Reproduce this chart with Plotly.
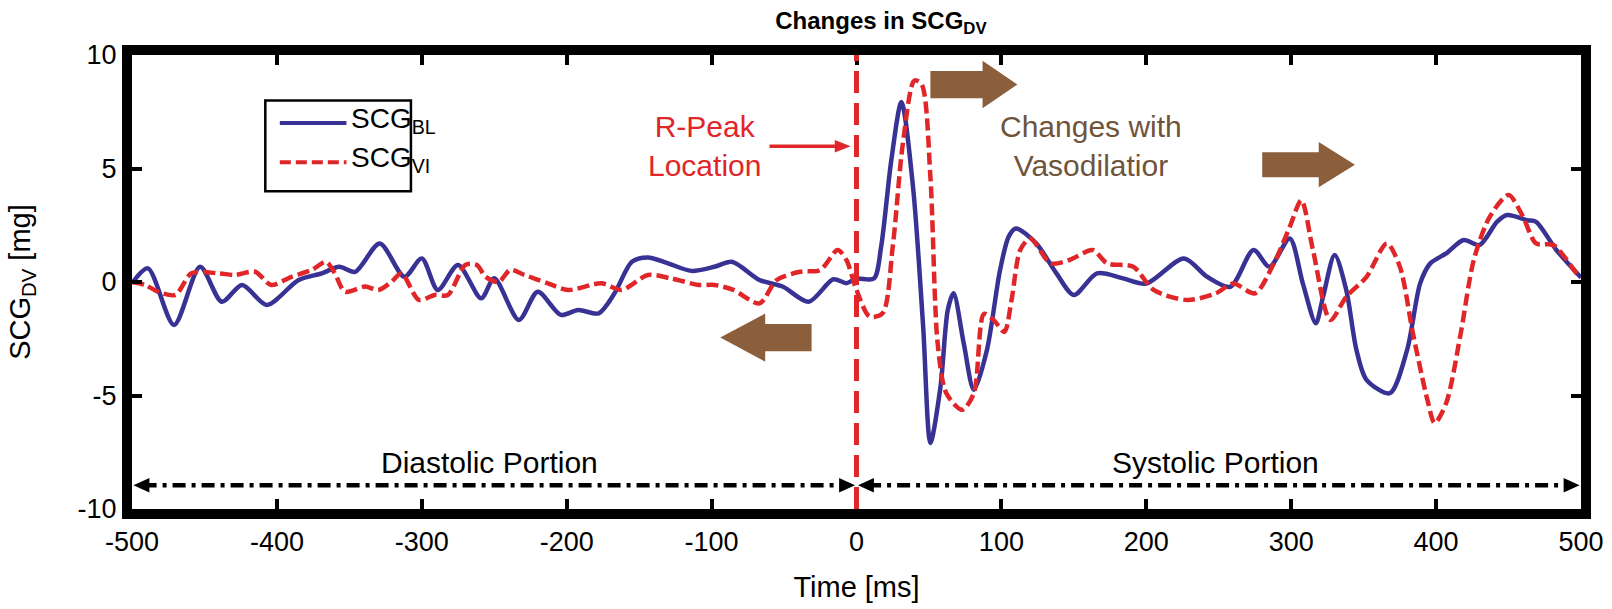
import plotly.graph_objects as go

# ---------------- data ----------------
t_bl = [-500, -489, -471, -453, -438, -424, -407, -385, -369, -357, -346, -329, -312, -300,
        -289, -275, -259, -250, -233, -220, -204, -192, -178, -167, -155, -144, -130, -114,
        -98, -86, -67, -51, -33, -16, -7, 0, 12, 17, 24, 31, 39, 46, 51, 58, 63, 67, 74, 81,
        90, 99, 105, 110, 124, 138, 150, 166, 184, 200, 226, 242, 258, 274, 285, 299, 308,
        317, 322, 330, 338, 345, 352, 368, 380, 389, 396, 407, 419, 430, 442, 449, 463, 469,
        483, 500]
v_bl = [-0.06, 0.6, -1.89, 0.67, -0.87, -0.13, -1.01, 0.09, 0.38, 0.67, 0.45, 1.70, 0.23, 1.04,
        -0.35, 0.75, -0.72, 0.16, -1.67, -0.43, -1.45, -1.23, -1.38, -0.5, 0.89, 1.08, 0.82, 0.49,
        0.67, 0.89, 0.09, -0.2, -0.87, 0.12, -0.05, 0.15, 0.15, 1.55, 5.36, 7.93, 4.19, -1.96,
        -7.09, -4.6, -1.23, -0.5, -2.7, -4.75, -3.0, 0.5, 2.0, 2.36, 1.7, 0.38, -0.57, 0.38,
        0.16, -0.07, 1.04, 0.23, -0.21, 1.41, 0.67, 1.92, -0.06, -1.82, -0.65, 1.19, -0.35,
        -2.99, -4.31, -4.9, -2.99, -0.06, 0.82, 1.26, 1.85, 1.63, 2.65, 2.95, 2.72, 2.65, 1.41,
        0.2]

t_vi = [-500, -491, -482, -470, -459, -440, -429, -415, -404, -390, -376, -366, -360, -353,
        -339, -330, -321, -314, -302, -291, -282, -270, -262, -256, -247, -239, -229, -213,
        -199, -176, -162, -144, -128, -109, -98, -85, -67, -55, -39, -25, -13, -7, 0, 9, 18,
        25, 32, 40, 45, 51, 56, 62, 73, 81, 88, 95, 102, 107, 113, 120, 134, 147, 163, 173,
        191, 205, 228, 248, 260, 275, 288, 299, 307, 315, 327, 338, 352, 366, 375, 384, 394,
        399, 407, 417, 426, 437, 450, 460, 469, 481, 497, 500]
v_vi = [0.0, -0.13, -0.43, -0.57, 0.38, 0.38, 0.31, 0.45, -0.13, 0.23, 0.53, 0.89, 0.38, -0.43,
        -0.2, -0.35, 0.0, 0.38, -0.79, -0.57, -0.57, 0.75, 0.75, 0.23, 0.0, 0.53, 0.31, -0.06,
        -0.35, -0.06, -0.35, 0.31, 0.16, -0.13, -0.13, -0.35, -0.94, 0.09, 0.45, 0.53, 1.41,
        0.97, -0.35, -1.52, -1.38, 1.55, 6.1, 8.88, 8.7, 4.63, -2.7, -4.9, -5.63, -4.9, -1.4,
        -1.7, -2.2, -0.8, 1.41, 1.92, 0.82, 0.97, 1.41, 0.82, 0.67, -0.35, -0.79, -0.5, -0.07,
        -0.5, 0.82, 2.43, 3.6, 1.41, -1.67, -0.65, 0.23, 1.7, 0.67, -2.26, -5.19, -6.21, -5.33,
        -2.26, 0.97, 2.87, 3.83, 2.87, 1.7, 1.63, 0.38, 0.2]

x_ticks = [-500, -400, -300, -200, -100, 0, 100, 200, 300, 400, 500]
y_ticks = [-10, -5, 0, 5, 10]
x_ticklabels = [str(v) for v in x_ticks]
y_ticklabels = [str(v) for v in y_ticks]

series_names = ["SCG<sub>BL</sub>", "SCG<sub>VI</sub>"]

FONT = "Arial, Liberation Sans, sans-serif"
BLUE = "rgb(55,50,148)"
RED = "rgb(224,38,40)"
BROWN_TXT = "rgb(112,84,58)"
BROWN = "rgb(139,94,60)"
RED_DASH = "12px,5px"

fig = go.Figure()
fig.add_trace(go.Scatter(x=t_bl, y=v_bl, mode="lines", name=series_names[0], showlegend=False,
                         line=dict(color=BLUE, width=4.5, shape="spline", smoothing=0.8)))
fig.add_trace(go.Scatter(x=t_vi, y=v_vi, mode="lines", name=series_names[1], showlegend=False,
                         line=dict(color=RED, width=4.5, dash=RED_DASH, shape="spline",
                                   smoothing=0.8)))


def block_arrow(x_tail, x_tip, yc, shaft_h, head_h, head_len):
    xs = x_tip - head_len if x_tip > x_tail else x_tip + head_len
    return (f"M {x_tail},{yc - shaft_h} L {xs},{yc - shaft_h} L {xs},{yc - head_h} "
            f"L {x_tip},{yc} L {xs},{yc + head_h} L {xs},{yc + shaft_h} L {x_tail},{yc + shaft_h} Z")


def head(x_tip, yc, direction, length, half):
    xb = x_tip - direction * length
    return f"M {x_tip},{yc} L {xb},{yc + half} L {xb},{yc - half} Z"


Y_SPAN = -8.95
shapes = [
    # R-peak vertical line
    dict(type="line", x0=0, x1=0, y0=-10, y1=10, xref="x", yref="y",
         line=dict(color=RED, width=5, dash="22px,10px"), layer="above"),
    # diastolic / systolic dash-dot lines
    dict(type="line", x0=-492, x1=-8, y0=Y_SPAN, y1=Y_SPAN, xref="x", yref="y",
         line=dict(color="black", width=4.5, dash="13px,6px,4px,6px")),
    dict(type="line", x0=8, x1=492, y0=Y_SPAN, y1=Y_SPAN, xref="x", yref="y",
         line=dict(color="black", width=4.5, dash="13px,6px,4px,6px")),
    # brown block arrows
    dict(type="path", path=block_arrow(51, 111, 8.7, 0.6, 1.05, 24), xref="x", yref="y",
         fillcolor=BROWN, line=dict(width=0)),
    dict(type="path", path=block_arrow(280, 344, 5.17, 0.55, 1.0, 25), xref="x", yref="y",
         fillcolor=BROWN, line=dict(width=0)),
    dict(type="path", path=block_arrow(-31, -94, -2.45, 0.6, 1.06, 31), xref="x", yref="y",
         fillcolor=BROWN, line=dict(width=0)),
    # red R-peak pointer
    dict(type="line", x0=-60, x1=-12, y0=5.98, y1=5.98, xref="x", yref="y",
         line=dict(color=RED, width=3.5)),
    dict(type="path", path=head(-4, 5.98, 1, 11, 0.28), xref="x", yref="y",
         fillcolor=RED, line=dict(width=0)),
    # black arrow heads of the portions
    dict(type="path", path=head(-499, Y_SPAN, -1, 11, 0.32), xref="x", yref="y",
         fillcolor="black", line=dict(width=0)),
    dict(type="path", path=head(-1, Y_SPAN, 1, 11, 0.32), xref="x", yref="y",
         fillcolor="black", line=dict(width=0)),
    dict(type="path", path=head(1, Y_SPAN, -1, 11, 0.32), xref="x", yref="y",
         fillcolor="black", line=dict(width=0)),
    dict(type="path", path=head(499, Y_SPAN, 1, 11, 0.32), xref="x", yref="y",
         fillcolor="black", line=dict(width=0)),
    # legend box and samples
    dict(type="rect", x0=-408, x1=-307.5, y0=4.0, y1=8.0, xref="x", yref="y",
         line=dict(color="black", width=2.5), fillcolor="white", layer="above"),
    dict(type="line", x0=-398, x1=-352, y0=7.0, y1=7.0, xref="x", yref="y",
         line=dict(color=BLUE, width=4), layer="above"),
    dict(type="line", x0=-398, x1=-352, y0=5.28, y1=5.28, xref="x", yref="y",
         line=dict(color=RED, width=4, dash="11px,5px"), layer="above"),
]

annotations = [
    dict(x=-105, y=5.97, text="R-Peak<br>Location", showarrow=False,
         font=dict(family=FONT, size=30, color=RED)),
    dict(x=162, y=5.97, text="Changes with<br>Vasodilatior", showarrow=False,
         font=dict(family=FONT, size=30, color=BROWN_TXT)),
    dict(x=-253, y=-7.95, text="Diastolic Portion", showarrow=False,
         font=dict(family=FONT, size=30, color="black")),
    dict(x=248, y=-7.95, text="Systolic Portion", showarrow=False,
         font=dict(family=FONT, size=30, color="black")),
    dict(x=-350, y=7.12, text=series_names[0], showarrow=False, xanchor="left",
         font=dict(family=FONT, size=28, color="black")),
    dict(x=-350, y=5.4, text=series_names[1], showarrow=False, xanchor="left",
         font=dict(family=FONT, size=28, color="black")),
]

axis_common = dict(showgrid=False, zeroline=False, showline=True, linecolor="black",
                   linewidth=10, mirror="ticks", ticks="inside", ticklen=10, tickwidth=4,
                   tickcolor="black", automargin=False,
                   tickfont=dict(family=FONT, size=27, color="black"))

fig.update_layout(
    width=1612, height=609,
    paper_bgcolor="white", plot_bgcolor="white",
    margin=dict(l=132, r=31, t=55, b=100),
    title=dict(text="<b>Changes in SCG<sub>DV</sub></b>", x=0.5465, xanchor="center",
               y=0.966, yanchor="middle", yref="container",
               font=dict(family=FONT, size=24, color="black")),
    xaxis=dict(range=[-500, 500], tickvals=x_ticks, ticktext=x_ticklabels,
               title=dict(text="Time [ms]", font=dict(family=FONT, size=29, color="black"),
                          standoff=24),
               **axis_common),
    yaxis=dict(range=[-10, 10], tickvals=y_ticks, ticktext=y_ticklabels,
               title=dict(text="SCG<sub>DV</sub> [mg]", font=dict(family=FONT, size=29, color="black"),
                          standoff=42),
               **axis_common),
    shapes=shapes,
    annotations=annotations,
    showlegend=False,
)

fig.write_html("out.html", config={"displayModeBar": False},
               post_script="document.body.style.margin='0';document.body.style.overflow='hidden';")
